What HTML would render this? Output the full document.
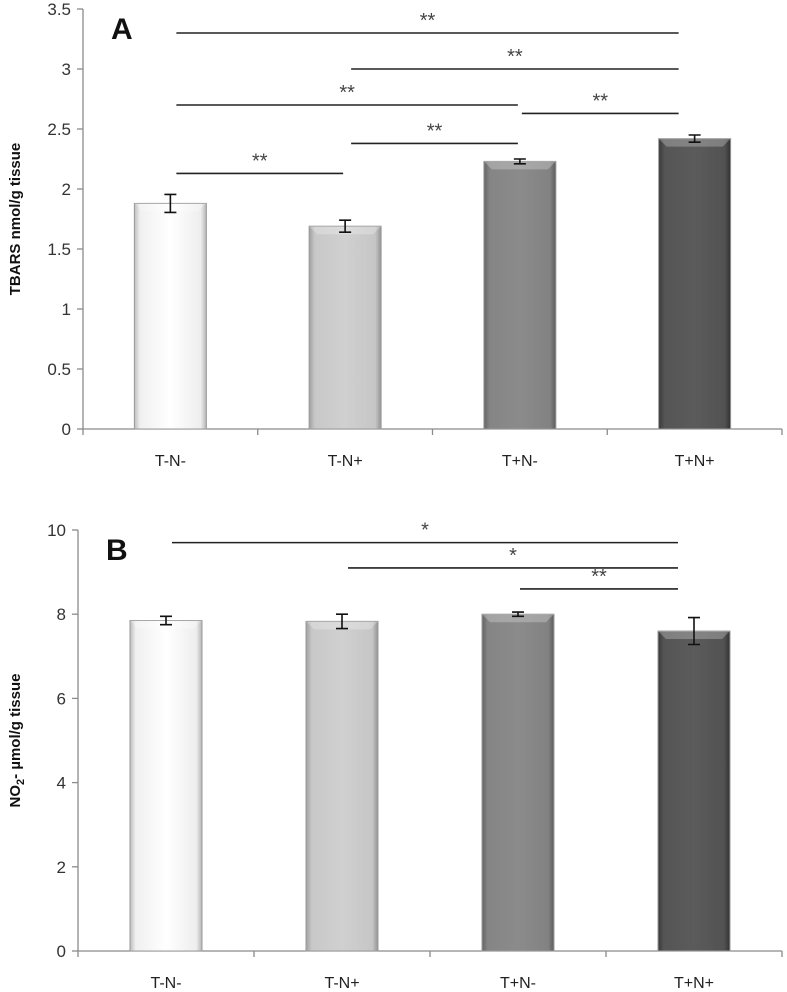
<!DOCTYPE html>
<html><head><meta charset="utf-8">
<style>
html,body{margin:0;padding:0;background:#fff;}
svg{display:block;font-family:"Liberation Sans",sans-serif;}
</style></head>
<body>
<svg id="chart" width="787" height="992" viewBox="0 0 787 992">
<defs>
<linearGradient id="g0" x1="0" x2="1"><stop offset="0" stop-color="#bdbdbd"/><stop offset="0.08" stop-color="#f0f0f0"/><stop offset="0.5" stop-color="#ffffff"/><stop offset="0.92" stop-color="#eeeeee"/><stop offset="1" stop-color="#b5b5b5"/></linearGradient>
<linearGradient id="g1" x1="0" x2="1"><stop offset="0" stop-color="#a0a0a0"/><stop offset="0.08" stop-color="#c8c8c8"/><stop offset="0.5" stop-color="#d0d0d0"/><stop offset="0.92" stop-color="#c6c6c6"/><stop offset="1" stop-color="#939393"/></linearGradient>
<linearGradient id="g2" x1="0" x2="1"><stop offset="0" stop-color="#646464"/><stop offset="0.08" stop-color="#858585"/><stop offset="0.5" stop-color="#8b8b8b"/><stop offset="0.92" stop-color="#828282"/><stop offset="1" stop-color="#5c5c5c"/></linearGradient>
<linearGradient id="g3" x1="0" x2="1"><stop offset="0" stop-color="#383838"/><stop offset="0.08" stop-color="#555"/><stop offset="0.5" stop-color="#5b5b5b"/><stop offset="0.92" stop-color="#525252"/><stop offset="1" stop-color="#303030"/></linearGradient>
</defs>
</svg>
<script>
const categories = ["T-N-","T-N+","T+N-","T+N+"];
const valuesA = [1.88,1.69,2.23,2.42];
const errorsA = [0.075,0.05,0.02,0.03];
const valuesB = [7.85,7.83,8.0,7.6];
const errorsB = [0.1,0.17,0.05,0.32];
const ticksA = [0,0.5,1,1.5,2,2.5,3,3.5];
const ticksB = [0,2,4,6,8,10];
// significance brackets: [fromIndex, toIndex, level, label]
const sigA = [[0,3,3.3,"**"],[1,3,3.0,"**"],[0,2,2.7,"**"],[2,3,2.63,"**"],[1,2,2.38,"**"],[0,1,2.13,"**"]];
const sigB = [[0,3,9.7,"*"],[1,3,9.1,"*"],[2,3,8.6,"**"]];

const svg = document.getElementById('chart');
const NS = 'http://www.w3.org/2000/svg';
function mk(tag, attrs, parent){const e=document.createElementNS(NS,tag);for(const k in attrs)e.setAttribute(k,attrs[k]);(parent||svg).appendChild(e);return e;}

function panel(cfg){
  const {x0,x1,yTop,yBase,max,ticks,vals,errs,sig,letter,title,key} = cfg;
  const g = mk('g',{});
  
  
  const yS = v => yBase - (yBase-yTop)*v/max;
  const step = (x1-x0)/categories.length;
  const xC = i => x0 + step*(i+0.5);
  const ya = mk('line',{x1:x0,y1:yTop,x2:x0,y2:yBase,stroke:'#8a8a8a','stroke-width':1.3},g);
  
  
  const xa = mk('line',{x1:x0,y1:yBase,x2:x1,y2:yBase,stroke:'#8a8a8a','stroke-width':1.3},g);
  
  
  ticks.forEach(t=>{
    const y=yS(t);
    mk('line',{x1:x0-6,y1:y,x2:x0,y2:y,stroke:'#8a8a8a','stroke-width':1.3},g);
    const tx = mk('text',{x:x0-12,y:y+6,'text-anchor':'end','font-size':17,fill:'#333'},g);
    tx.textContent = t;
    
    
  });
  for(let i=0;i<=categories.length;i++){
    const x=x0+step*i;
    mk('line',{x1:x,y1:yBase,x2:x,y2:yBase+6,stroke:'#8a8a8a','stroke-width':1.3},g);
  }
  const bw = 72;
  vals.forEach((v,i)=>{
    const y=yS(v), xc=xC(i);
    const b = mk('rect',{x:xc-bw/2,y:y,width:bw,height:yBase-y,fill:'url(#g'+i+')',stroke:'#9a9a9a','stroke-width':1},g);
    
    
    mk('polygon',{points:`${xc-bw/2},${y} ${xc+bw/2},${y} ${xc+bw/2-8},${y+8} ${xc-bw/2+8},${y+8}`,fill:'#fff','fill-opacity':0.25},g);
    const e=errs[i], yt=yS(v+e), yb=yS(v-e);
    const eb = mk('path',{d:`M${xc},${yt}V${yb}M${xc-6},${yt}H${xc+6}M${xc-6},${yb}H${xc+6}`,stroke:'#111','stroke-width':1.6,fill:'none'},g);
    
    
    const lb = mk('text',{x:xc,y:yBase+37,'text-anchor':'middle','font-size':16,fill:'#222'},g);
    lb.textContent = categories[i];
    
    
  });
  sig.forEach(s=>{
    const y=yS(s[2]);
    const xa1 = xC(s[0]) + (s[0]===2 ? 2 : 6);
    const xa2 = s[1]===3 ? xC(3)-16 : xC(s[1])-2;
    const l = mk('line',{x1:xa1,y1:y,x2:xa2,y2:y,stroke:'#222','stroke-width':1.6},g);
    
    
    const t = mk('text',{x:(xa1+xa2)/2,y:y-6,'text-anchor':'middle','font-size':20,fill:'#444'},g);
    t.textContent = s[3];
    
    
  });
  const L = mk('text',{x:x0+28,y:yTop+30,'font-size':30,'font-weight':'bold',fill:'#111'},g);
  L.textContent = letter;
  
  
  const T = mk('text',{transform:`translate(20,${(yTop+yBase)/2}) rotate(-90)`,'text-anchor':'middle','font-size':15,'font-weight':'bold',fill:'#111'},g);
  T.innerHTML = title;
  
  
}
panel({key:'a',x0:83,x1:782,yTop:9,yBase:429,max:3.5,ticks:ticksA,vals:valuesA,errs:errorsA,sig:sigA,letter:'A',title:'TBARS nmol/g tissue'});
panel({key:'b',x0:78,x1:782,yTop:530,yBase:951,max:10,ticks:ticksB,vals:valuesB,errs:errorsB,sig:sigB,letter:'B',title:'NO<tspan font-size="11" dy="4">2</tspan><tspan dy="-4">- µmol/g tissue</tspan>'});
</script>
</body></html>
